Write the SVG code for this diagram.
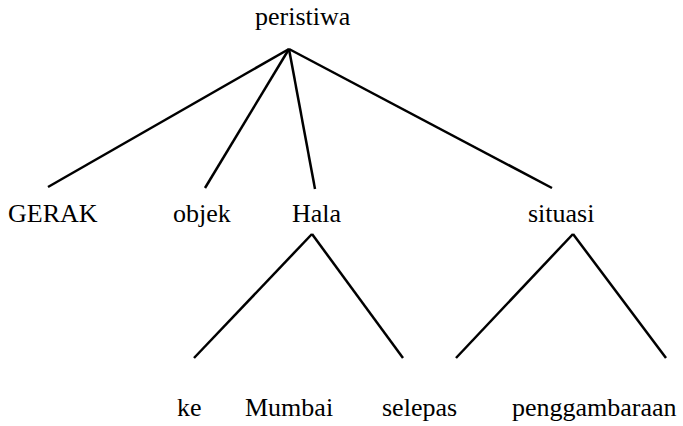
<svg xmlns="http://www.w3.org/2000/svg" width="683" height="426" viewBox="0 0 683 426">
<style>
.e line{stroke:#000;stroke-width:2.5;stroke-linecap:butt}
</style>
<rect width="683" height="426" fill="#fff"/>
<g class="e" id="connectors">
<line x1="289" y1="49" x2="48" y2="187"/>
<line x1="289" y1="49" x2="205" y2="188"/>
<line x1="289" y1="49" x2="315" y2="189"/>
<line x1="289" y1="49" x2="552" y2="188"/>
<line x1="312" y1="234" x2="194" y2="358"/>
<line x1="312" y1="234" x2="403" y2="358"/>
<line x1="573" y1="234" x2="456" y2="358"/>
<line x1="573" y1="234" x2="666" y2="358"/>
</g>
<g font-family="Liberation Serif, Times New Roman, serif" font-size="26" fill="#000">
<g id="n-peristiwa"><text x="255" y="25">peristiwa</text></g>
<g id="n-gerak"><text x="8" y="222">GERAK</text></g>
<g id="n-objek"><text x="173" y="222">objek</text></g>
<g id="n-hala"><text x="292" y="222">Hala</text></g>
<g id="n-situasi"><text x="528" y="222">situasi</text></g>
<g id="n-ke"><text x="177" y="416">ke</text></g>
<g id="n-mumbai"><text x="245" y="416">Mumbai</text></g>
<g id="n-selepas"><text x="382" y="416">selepas</text></g>
<g id="n-penggambaraan"><text x="512" y="416">penggambaraan</text></g>
</g>
</svg>
